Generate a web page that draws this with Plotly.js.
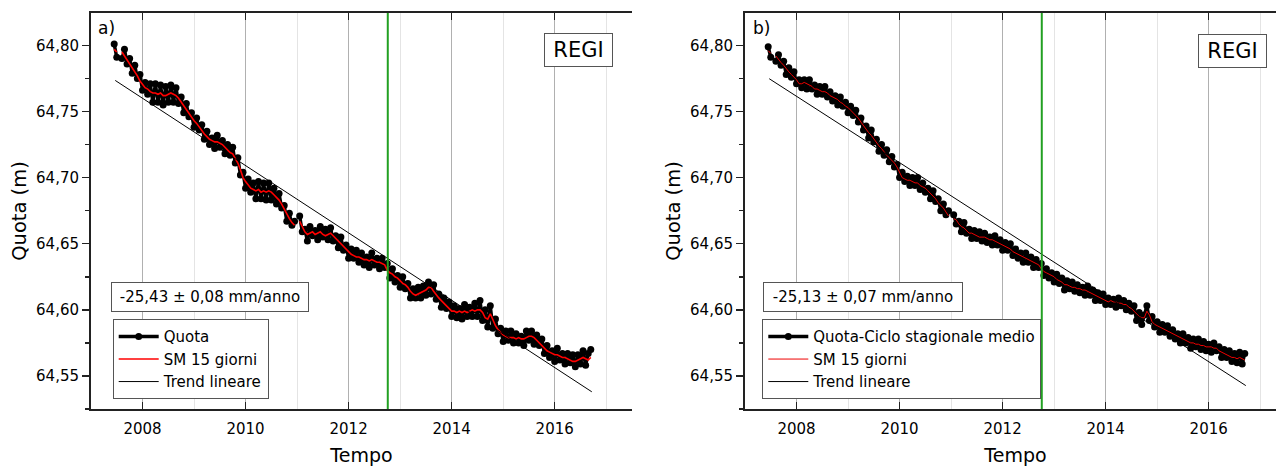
<!DOCTYPE html>
<html><head><meta charset="utf-8">
<script src="https://cdn.plot.ly/plotly-3.0.1.min.js"></script>
<style>html,body{margin:0;padding:0;overflow:hidden;background:#fff}#g{width:1290px;height:466px}</style>
</head><body><div id="g"></div>
<script>
// Tempo (anni decimali)
const tempo = [
2007.45,2007.5,2007.55,2007.6,2007.65,2007.7,2007.75,2007.8,2007.85,2007.9,2007.95,
2008,2008.05,2008.1,2008.15,2008.2,2008.25,2008.3,2008.35,2008.4,2008.45,2008.5,2008.55,2008.6,2008.65,2008.7,2008.75,2008.8,2008.85,2008.9,2008.95,
2009,2009.05,2009.1,2009.15,2009.2,2009.25,2009.3,2009.35,2009.4,2009.45,2009.5,2009.55,2009.6,2009.65,2009.7,2009.75,2009.8,2009.85,2009.9,2009.95,
2010,2010.05,2010.1,2010.15,2010.2,2010.25,2010.3,2010.35,2010.4,2010.45,2010.5,2010.55,2010.6,2010.65,2010.7,2010.75,2010.8,2010.85,2010.9,2010.95,
2011,2011.05,2011.1,2011.15,2011.2,2011.25,2011.3,2011.35,2011.4,2011.45,2011.5,2011.55,2011.6,2011.65,2011.7,2011.75,2011.8,2011.85,2011.9,2011.95,
2012,2012.05,2012.1,2012.15,2012.2,2012.25,2012.3,2012.35,2012.4,2012.45,2012.5,2012.55,2012.6,2012.65,2012.7,2012.75,2012.8,2012.85,2012.9,2012.95,
2013,2013.05,2013.1,2013.15,2013.2,2013.25,2013.3,2013.35,2013.4,2013.45,2013.5,2013.55,2013.6,2013.65,2013.7,2013.75,2013.8,2013.85,2013.9,2013.95,
2014,2014.05,2014.1,2014.15,2014.2,2014.25,2014.3,2014.35,2014.4,2014.45,2014.5,2014.55,2014.6,2014.65,2014.7,2014.75,2014.8,2014.85,2014.9,2014.95,
2015,2015.05,2015.1,2015.15,2015.2,2015.25,2015.3,2015.35,2015.4,2015.45,2015.5,2015.55,2015.6,2015.65,2015.7,2015.75,2015.8,2015.85,2015.9,2015.95,
2016,2016.05,2016.1,2016.15,2016.2,2016.25,2016.3,2016.35,2016.4,2016.45,2016.5,2016.55,2016.6,2016.65,2016.7];

// a) Quota (m)
const quotaA = [
64.801,64.791,null,64.790,64.797,64.786,64.790,64.779,64.785,64.775,64.778,
64.766,64.772,64.763,64.771,64.757,64.771,64.757,64.770,64.755,64.769,64.757,64.770,64.757,64.768,64.756,64.761,64.749,64.756,64.746,64.749,
64.738,64.745,64.736,64.740,64.729,64.735,64.725,64.730,64.722,64.732,64.723,64.728,64.718,64.725,64.717,64.723,64.711,64.715,64.702,64.704,
64.692,64.699,64.689,64.696,64.684,64.697,64.684,64.696,64.683,64.696,64.683,64.692,64.680,64.688,64.677,64.679,64.667,64.673,64.664,64.667,
null,64.671,64.659,64.661,64.652,64.663,64.656,64.660,64.653,64.663,64.655,64.661,64.653,64.662,64.652,64.656,64.647,64.655,64.645,64.649,
64.639,64.646,64.639,64.645,64.636,64.643,64.634,64.640,64.632,64.643,64.634,64.639,64.631,64.639,64.632,64.635,64.624,64.631,64.621,64.626,
64.617,64.625,64.616,64.620,64.609,64.616,64.609,64.617,64.609,64.618,64.611,64.621,64.612,64.619,64.608,64.612,64.602,64.609,64.601,64.606,
64.595,64.603,64.594,64.601,64.593,64.604,64.595,64.602,64.595,64.605,64.595,64.607,64.592,64.600,64.587,64.603,64.586,64.593,64.582,64.586,
64.576,64.584,64.577,64.584,64.575,64.582,64.575,64.580,64.573,64.584,64.577,64.584,64.574,64.581,64.573,64.578,64.567,64.573,64.564,64.569,
64.561,64.571,64.562,64.567,64.559,64.567,64.560,64.566,64.557,64.566,64.559,64.569,64.558,64.567,64.570];

// a) SM 15 giorni (m)
const smA = [
64.797,64.795,null,64.795,64.792,64.789,64.787,64.784,64.781,64.777,64.773,
64.770,64.768,64.767,64.765,64.764,64.764,64.763,64.764,64.762,64.762,64.763,64.764,64.763,64.762,64.760,64.757,64.754,64.751,64.749,64.746,
64.743,64.741,64.738,64.735,64.733,64.731,64.729,64.728,64.727,64.727,64.726,64.725,64.723,64.721,64.719,64.718,64.715,64.711,64.706,64.700,
64.697,64.694,64.692,64.691,64.690,64.691,64.689,64.690,64.689,64.690,64.689,64.687,64.685,64.683,64.680,64.676,64.672,64.669,64.666,64.664,
null,64.667,64.663,64.659,64.657,64.658,64.659,64.657,64.658,64.659,64.657,64.656,64.657,64.658,64.656,64.654,64.652,64.650,64.648,64.646,
64.644,64.642,64.641,64.640,64.640,64.639,64.638,64.638,64.637,64.638,64.637,64.636,64.636,64.635,64.634,64.630,64.628,64.627,64.625,64.624,
64.622,64.620,64.619,64.617,64.614,64.612,64.611,64.612,64.613,64.614,64.615,64.617,64.617,64.614,64.611,64.609,64.607,64.605,64.603,64.601,
64.599,64.599,64.598,64.599,64.598,64.599,64.598,64.599,64.600,64.599,64.600,64.600,64.598,64.594,64.593,64.597,64.592,64.588,64.585,64.583,
64.581,64.580,64.579,64.579,64.579,64.578,64.579,64.578,64.578,64.579,64.580,64.580,64.579,64.577,64.575,64.573,64.571,64.569,64.568,64.567,
64.566,64.566,64.565,64.564,64.564,64.563,64.562,64.561,64.561,64.562,64.563,64.564,64.563,64.562,64.564];

// b) Quota - Ciclo stagionale medio (m)
const quotaB = [
64.799,64.791,null,64.788,64.793,64.785,64.788,64.778,64.783,64.776,64.780,
64.771,64.774,64.768,64.774,64.767,64.774,64.767,64.770,64.763,64.769,64.763,64.769,64.761,64.765,64.758,64.762,64.755,64.761,64.754,64.757,
64.749,64.754,64.747,64.751,64.742,64.745,64.736,64.739,64.730,64.736,64.727,64.729,64.720,64.725,64.717,64.721,64.712,64.716,64.708,64.710,
64.700,64.704,64.697,64.701,64.694,64.700,64.694,64.700,64.691,64.696,64.689,64.692,64.684,64.690,64.682,64.684,64.675,64.680,64.672,64.675,
null,64.672,64.665,64.667,64.659,64.666,64.658,64.661,64.654,64.660,64.654,64.659,64.652,64.658,64.651,64.655,64.649,64.656,64.649,64.653,
64.645,64.651,64.645,64.650,64.641,64.646,64.639,64.643,64.636,64.643,64.636,64.640,64.632,64.638,64.632,64.635,64.626,64.631,64.624,64.628,
64.621,64.627,64.620,64.624,64.615,64.622,64.616,64.621,64.614,64.619,64.613,64.617,64.611,64.618,64.611,64.615,64.607,64.613,64.607,64.612,
64.604,64.609,64.604,64.608,64.602,64.609,64.603,64.607,64.600,64.605,64.599,64.603,64.592,64.598,64.589,64.596,64.603,64.592,64.595,64.587,
64.591,64.583,64.589,64.583,64.588,64.580,64.585,64.578,64.582,64.575,64.582,64.575,64.579,64.571,64.578,64.572,64.578,64.570,64.576,64.569,
64.574,64.568,64.575,64.569,64.572,64.564,64.570,64.564,64.569,64.561,64.567,64.560,64.568,64.559,64.567];

// b) SM 15 giorni (m)
const smB = [
64.796,64.794,null,64.792,64.789,64.787,64.785,64.782,64.780,64.778,64.776,
64.774,64.771,64.771,64.772,64.771,64.770,64.769,64.767,64.767,64.766,64.765,64.765,64.764,64.762,64.761,64.760,64.759,64.757,64.756,64.754,
64.753,64.751,64.749,64.747,64.745,64.742,64.739,64.737,64.734,64.732,64.729,64.726,64.724,64.722,64.719,64.717,64.715,64.713,64.711,64.708,
64.704,64.700,64.699,64.698,64.698,64.697,64.696,64.696,64.694,64.693,64.692,64.690,64.688,64.686,64.684,64.681,64.679,64.677,64.674,64.671,
null,64.669,64.668,64.665,64.663,64.662,64.660,64.658,64.658,64.657,64.656,64.655,64.655,64.655,64.654,64.653,64.653,64.652,64.651,64.650,
64.649,64.648,64.647,64.646,64.644,64.643,64.642,64.641,64.640,64.639,64.638,64.637,64.636,64.635,64.634,64.631,64.629,64.628,64.627,64.626,
64.625,64.623,64.622,64.621,64.619,64.619,64.618,64.617,64.617,64.616,64.616,64.615,64.615,64.614,64.613,64.612,64.611,64.610,64.609,64.608,
64.607,64.606,64.607,64.606,64.606,64.605,64.605,64.604,64.604,64.602,64.601,64.599,64.597,64.595,64.594,64.594,64.599,64.596,64.591,64.589,
64.588,64.587,64.586,64.585,64.584,64.583,64.582,64.581,64.580,64.579,64.578,64.577,64.576,64.575,64.575,64.574,64.574,64.573,64.573,64.572,
64.572,64.572,64.571,64.571,64.569,64.568,64.567,64.566,64.565,64.564,64.564,64.563,64.564,64.563,64.562];

// Trend lineare (estremi)
const trendA_t = [2007.47, 2016.72];
const trendA_q = [64.7735, 64.5380];
const trendB_t = [2007.47, 2016.72];
const trendB_q = [64.7748, 64.5427];

const evento = [2012.76];
const xTickVals = [2008, 2010, 2012, 2014, 2016];
const xTickText = ['2008', '2010', '2012', '2014', '2016'];
const yTickVals = [64.55, 64.60, 64.65, 64.70, 64.75, 64.80];
const yTickText = ['64,55', '64,60', '64,65', '64,70', '64,75', '64,80'];
const pendenze = ['-25,43 \u00b1 0,08 mm/anno', '-25,13 \u00b1 0,07 mm/anno'];
const nomiA = ['Quota', 'SM 15 giorni', 'Trend lineare'];
const nomiB = ['Quota-Ciclo stagionale medio', 'SM 15 giorni', 'Trend lineare'];
const pannelli = ['a)', 'b)'];
const stazione = 'REGI';

const W = 1290, H = 466;
const px = v => v / W, py = v => 1 - v / H;
const FONT = 'DejaVu Sans';
const AX = '#222';

function serie(q, sm, tt, tq, nomi, xa, ya, leg, smColor, smW) {
  return [
    {x: tempo, y: q, name: nomi[0], type: 'scatter', mode: 'lines+markers', xaxis: xa, yaxis: ya, legend: leg,
     line: {color: '#000', width: 3.4, simplify: false}, marker: {color: '#000', size: 7}, connectgaps: false},
    {x: tempo, y: sm, name: nomi[1], type: 'scatter', mode: 'lines', xaxis: xa, yaxis: ya, legend: leg,
     line: {color: smColor, width: smW}, connectgaps: false},
    {x: tt, y: tq, name: nomi[2], type: 'scatter', mode: 'lines', xaxis: xa, yaxis: ya, legend: leg,
     line: {color: '#000', width: 1}}
  ];
}

const data = [
  ...serie(quotaA, smA, trendA_t, trendA_q, nomiA, 'x', 'y', 'legend', '#ff0000', 1.6),
  ...serie(quotaB, smB, trendB_t, trendB_q, nomiB, 'x2', 'y2', 'legend2', '#ee0000', 1)
];

function xAx(dom, anchor) {
  return {
    domain: dom, anchor: anchor, range: [2007, 2017.5],
    tickmode: 'array', tickvals: xTickVals, ticktext: xTickText,
    ticks: 'inside', ticklen: 7, tickwidth: 1.5, tickcolor: AX,
    showline: true, linecolor: AX, linewidth: 2, mirror: 'ticks',
    showgrid: true, gridcolor: '#b0b0b0', gridwidth: 1, zeroline: false,
    minor: {tickmode: 'linear', tick0: 2007, dtick: 1, showgrid: true, gridcolor: '#e4e4e4', gridwidth: 1, ticks: ''},
    tickfont: {family: FONT, size: 15, color: '#000'}, ticklabelstandoff: 5,
    title: {text: 'Tempo', font: {family: FONT, size: 19, color: '#000'}, standoff: 12}
  };
}
function yAx(anchor) {
  return {
    domain: [py(409), py(13)], anchor: anchor, range: [64.525, 64.8245],
    tickmode: 'array', tickvals: yTickVals, ticktext: yTickText,
    ticks: 'outside', ticklen: 7, tickwidth: 1.5, tickcolor: AX,
    showline: true, linecolor: AX, linewidth: 2, showgrid: false, zeroline: false,
    minor: {tickmode: 'linear', tick0: 64.525, dtick: 0.025, ticks: 'outside', ticklen: 4, tickwidth: 1.5, tickcolor: AX, showgrid: false},
    tickfont: {family: FONT, size: 15, color: '#000'},
    title: {text: 'Quota (m)', font: {family: FONT, size: 19.5, color: '#000'}, standoff: 4}
  };
}

function legenda(x, y) {
  return {x: px(x), y: py(y), xanchor: 'left', yanchor: 'top', bgcolor: '#fff',
          bordercolor: '#555', borderwidth: 1, font: {family: FONT, size: 15, color: '#000'},
          itemwidth: 40, tracegroupgap: 0};
}

function box(text, x, y, w, h, size) {
  return {xref: 'paper', yref: 'paper', x: px(x), y: py(y), xanchor: 'left', yanchor: 'top',
          text: text, showarrow: false, bordercolor: '#555', borderwidth: 1, borderpad: 4,
          width: w, height: h, bgcolor: '#fff', font: {family: FONT, size: size, color: '#000'}};
}
function label(text, x, y) {
  return {xref: 'paper', yref: 'paper', x: px(x), y: py(y), xanchor: 'left', yanchor: 'middle',
          text: text, showarrow: false, font: {family: FONT, size: 17, color: '#000'}};
}

const yRight = yAx('x');
Object.assign(yRight, {overlaying: 'y', side: 'right', showticklabels: false, ticks: 'inside', title: {text: ''}});
yRight.minor = Object.assign({}, yRight.minor, {ticks: 'inside'});

const layout = {
  width: W, height: H, margin: {l: 0, r: 0, t: 0, b: 0},
  paper_bgcolor: '#fff', plot_bgcolor: '#fff',
  font: {family: FONT, color: '#000'},
  xaxis: xAx([px(91), px(632)], 'y'),
  yaxis: yAx('x'),
  yaxis3: yRight,
  xaxis2: xAx([px(745), px(1286)], 'y2'),
  yaxis2: yAx('x2'),
  legend: legenda(112.7, 319.3),
  legend2: legenda(762.3, 319.3),
  shapes: [
    {type: 'line', xref: 'x', yref: 'y domain', x0: evento[0], x1: evento[0], y0: 0, y1: 1, line: {color: '#22a022', width: 2}},
    {type: 'line', xref: 'x2', yref: 'y2 domain', x0: evento[0], x1: evento[0], y0: 0, y1: 1, line: {color: '#22a022', width: 2}}
  ],
  annotations: [
    label(pannelli[0], 96, 28),
    label(pannelli[1], 751, 28),
    box(stazione, 544.3, 33.3, 59, 24, 21),
    box(stazione, 1197.7, 34, 59, 24, 21),
    box(pendenze[0], 110.7, 281.7, 188, 20, 15),
    box(pendenze[1], 763.3, 281.7, 190, 20, 15)
  ]
};

Plotly.newPlot('g', data, layout, {displayModeBar: false, staticPlot: true});
</script></body></html>
